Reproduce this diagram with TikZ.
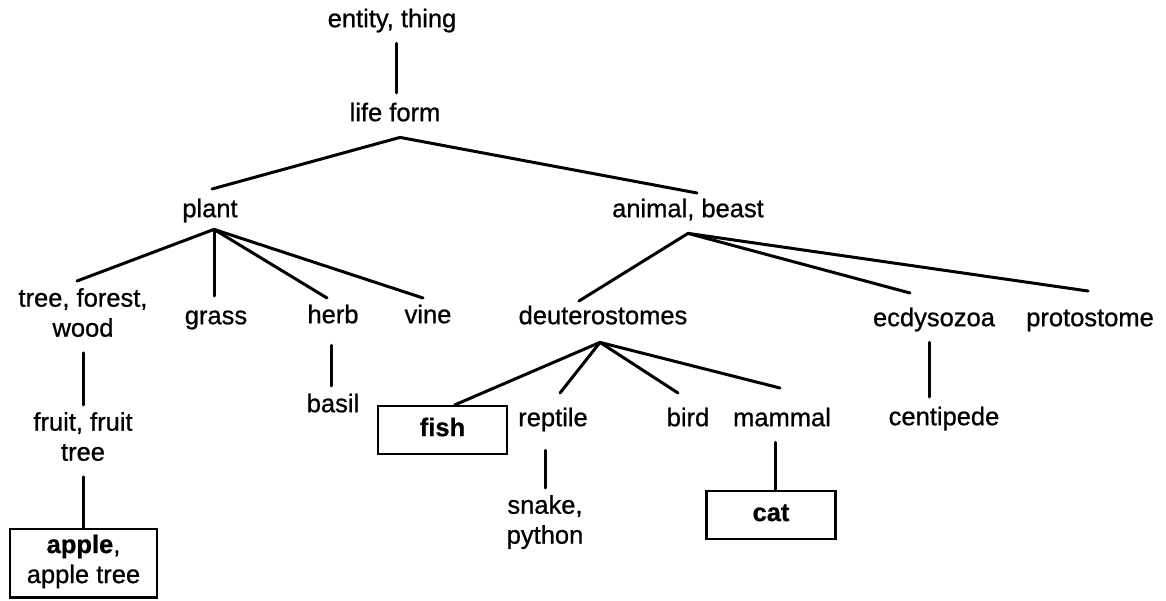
\documentclass[tikz,border=0pt]{standalone}
\usepackage{fontspec}
\setmainfont{Liberation Sans}[FakeBold=0.8]
\begin{document}
\begin{tikzpicture}[x=1pt,y=-1pt,
  lbl/.style={font=\fontsize{25.5}{30}\selectfont, inner xsep=2pt, inner ysep=7pt,
    align=center, anchor=north, execute at begin node=\strut, execute at end node=\strut},
  boxed/.style={lbl, draw, line width=2.2pt, inner ysep=0pt, minimum width=129pt, minimum height=48pt},
  link/.style={line width=3pt, line cap=round}]
\useasboundingbox (0,0) rectangle (1166,601);
% level 0-2
\node[lbl] (entity) at (392,-1) {entity, thing};
\node[lbl] (life) at (395,93) {life form};
\node[lbl] (plant) at (210,189) {plant};
\node[lbl] (animal) at (688,189) {animal, beast};
% level 3
\node[lbl] (tree) at (83,281) {tree, forest,\\wood};
\node[lbl] (grass) at (216,296) {grass};
\node[lbl] (herb) at (333,295) {herb};
\node[lbl] (vine) at (428,295) {vine};
\node[lbl] (deut) at (603,296) {deuterostomes};
\node[lbl] (ecd) at (934,298) {ecdysozoa};
\node[lbl] (proto) at (1090,298) {protostome};
% level 4
\node[lbl] (basil) at (333,384) {basil};
\node[lbl] (fruit) at (83,405) {fruit, fruit\\tree};
\node[boxed] (fish) at (442.5,405) {\textbf{fish}};
\node[lbl] (reptile) at (553,398) {reptile};
\node[lbl] (bird) at (688,398) {bird};
\node[lbl] (mammal) at (782,398) {mammal};
\node[lbl] (centi) at (944,397) {centipede};
% level 5
\node[lbl] (snake) at (545,488) {snake,\\python};
\node[boxed] (cat) at (771,490) {\textbf{cat}};
\node[boxed, inner ysep=5.5pt, minimum width=147pt] (apple) at (83.5,528) {\textbf{apple},\\apple tree};
% connectors
\draw[link] ([xshift=1pt]life.north) -- ([xshift=1pt]life.north |- entity.south);
\draw[link] ([xshift=2pt]plant.north) -- ([xshift=5pt]life.south) -- ([xshift=9pt,yshift=-4pt]animal.north);
\draw[link] ([xshift=-6pt]tree.north) -- ([xshift=4pt,yshift=4pt]plant.south);
\draw[link] ([xshift=-2pt]grass.north) -- ([xshift=4pt,yshift=4pt]plant.south);
\draw[link] ([xshift=-6pt,yshift=-3pt]herb.north) -- ([xshift=4pt,yshift=4pt]plant.south);
\draw[link] ([xshift=-5pt,yshift=-3pt]vine.north) -- ([xshift=4pt,yshift=4pt]plant.south);
\draw[link] ([xshift=-24pt,yshift=-5pt]deut.north) -- (animal.south);
\draw[link] ([xshift=-24pt,yshift=5pt]ecd.north) -- (animal.south);
\draw[link] ([xshift=-2pt,yshift=7pt]proto.north) -- (animal.south);
\draw[link] (fruit.north) -- (fruit.north |- tree.south);
\draw[link] (apple.north) -- (apple.north |- fruit.south);
\draw[link] ([xshift=-2pt,yshift=-2pt]basil.north) -- ([xshift=-2pt,yshift=-6pt]basil.north |- herb.south);
\draw[link] ([xshift=-5pt]ecd.south) -- ([xshift=-5pt]ecd.south |- centi.north);
\draw[link] ([xshift=12pt]fish.north) -- ([xshift=-3pt,yshift=-2pt]deut.south);
\draw[link] ([xshift=7pt,yshift=5pt]reptile.north) -- ([xshift=-3pt,yshift=-2pt]deut.south);
\draw[link] ([xshift=-10pt,yshift=5pt]bird.north) -- ([xshift=-3pt,yshift=-2pt]deut.south);
\draw[link] ([xshift=-2pt,yshift=10pt]mammal.north) -- ([xshift=-3pt,yshift=-2pt]deut.south);
\draw[link] (snake.north) -- ([yshift=-8pt]snake.north |- reptile.south);
\draw[link] ([xshift=4pt]cat.north) -- ([xshift=4pt]cat.north |- mammal.south);
\end{tikzpicture}
\end{document}
